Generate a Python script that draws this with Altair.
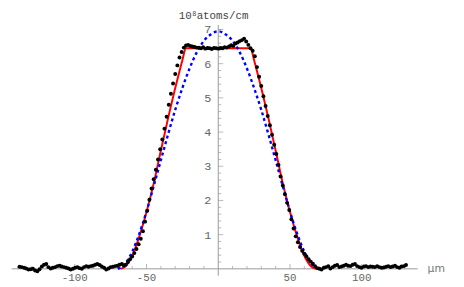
import altair as alt
import pandas as pd

# measured profile (black dots)
dots_x = [
    -138.5, -137.0, -135.4, -133.9, -132.3, -130.8, -129.2, -127.7, -126.1, -124.6,
    -123.0, -121.5, -119.9, -118.4, -116.8, -115.3, -113.7, -112.2, -110.6, -109.1,
    -107.5, -106.0, -104.4, -102.9, -101.3, -99.8, -98.2, -96.7, -95.1, -93.6,
    -92.0, -90.5, -88.9, -87.4, -85.8, -84.3, -82.7, -81.2, -79.6, -78.1,
    -76.5, -75.0, -73.4, -71.9, -70.3, -68.8, -67.2, -65.9,
    -64.5, -63.0, -61.5, -60.0, -58.5, -57.0, -55.5, -54.0, -52.5, -51.0,
    -49.5, -48.0, -46.5, -45.0, -43.5, -42.0, -40.5, -39.0, -37.5, -36.0,
    -34.5, -33.0, -31.5, -30.0, -28.5, -27.0, -25.5, -24.0, -22.5, -21.0,
    -19.5, -18.0, -16.5, -15.0, -13.5, -12.0, -10.5, -9.0, -7.5, -6.0,
    -4.5, -3.0, -1.5, 0.0, 1.5, 3.0, 4.5, 6.0, 7.5, 9.0,
    10.5, 12.0, 13.5, 15.0, 16.5, 18.0, 19.5, 21.0, 22.5, 24.0,
    25.5, 27.0, 28.5, 30.0, 31.5, 33.0, 34.5, 36.0, 37.5, 39.0,
    40.5, 42.0, 43.5, 45.0, 46.5, 48.0, 49.5, 51.0, 52.5, 54.0,
    55.5, 57.0, 58.5, 60.0, 61.5, 63.0, 64.5, 66.0, 67.5, 69.0,
    70.5, 72.0, 73.6, 75.1, 76.7, 78.2, 79.8, 81.3, 82.9, 84.4,
    86.0, 87.5, 89.1, 90.6, 92.2, 93.7, 95.3, 96.8, 98.4, 99.9,
    101.5, 103.0, 104.6, 106.1, 107.7, 109.2, 110.8, 112.3, 113.9, 115.4,
    117.0, 118.5, 120.1, 121.6, 123.2, 124.7, 126.3, 127.8, 129.4, 130.9,
]
dots_y = [
    0.06, 0.05, 0.03, 0.01, -0.02, -0.01, 0.00, -0.05, -0.07, -0.01,
    0.07, 0.12, 0.14, 0.05, 0.01, 0.03, 0.05, 0.08, 0.09, 0.07,
    0.05, 0.03, 0.01, -0.02, 0.00, 0.03, 0.05, 0.02, 0.00, 0.05,
    0.08, 0.06, 0.08, 0.09, 0.12, 0.14, 0.11, 0.07, 0.03, -0.02,
    0.01, 0.05, 0.06, 0.08, 0.09, 0.12, 0.14, 0.10,
    0.12, 0.20, 0.28, 0.36, 0.46, 0.58, 0.72, 0.88, 1.10, 1.38,
    1.70, 2.02, 2.35, 2.62, 2.90, 3.20, 3.50, 3.78, 4.10, 4.45,
    4.80, 5.12, 5.42, 5.70, 5.95, 6.18, 6.34, 6.47, 6.53, 6.55,
    6.52, 6.50, 6.49, 6.47, 6.47, 6.45, 6.48, 6.44, 6.46, 6.45,
    6.43, 6.46, 6.45, 6.44, 6.46, 6.45, 6.48, 6.47, 6.50, 6.54,
    6.52, 6.59, 6.62, 6.66, 6.69, 6.73, 6.65, 6.55, 6.45, 6.38,
    6.22, 5.90, 5.62, 5.35, 5.05, 4.76, 4.47, 4.20, 3.92, 3.63,
    3.36, 3.04, 2.70, 2.44, 2.18, 1.93, 1.72, 1.45, 1.18, 0.95,
    0.78, 0.64, 0.53, 0.44, 0.36, 0.28, 0.21, 0.15, 0.08, 0.02,
    0.00, -0.02, 0.03, 0.05, 0.08, 0.01, 0.05, 0.09, 0.11, 0.05,
    0.07, 0.09, 0.12, 0.09, 0.08, 0.12, 0.14, 0.08, 0.05, 0.03,
    0.07, 0.08, 0.05, 0.07, 0.06, 0.05, 0.08, 0.05, 0.03, 0.04,
    0.06, 0.08, 0.05, 0.07, 0.09, 0.05, 0.03, 0.07, 0.08, 0.11,
]

# red fit (saturated profile)
red_x = [-68.0, -65.0, -60.0, -55.0, -50.0, -45.0, -40.0, -35.0, -32.5, -30.0,
         -27.5, -25.0, -22.6, 0.0, 22.6, 25.0, 27.5, 30.0, 32.5, 35.0,
         40.0, 45.0, 50.0, 55.0, 60.0, 65.0, 68.0]
red_y = [0.00, 0.06, 0.38, 0.95, 1.66, 2.50, 3.46, 4.40, 4.85, 5.29,
         5.70, 6.10, 6.45, 6.45, 6.45, 6.10, 5.70, 5.29, 4.85, 4.40,
         3.46, 2.50, 1.66, 0.95, 0.38, 0.06, 0.00]

# blue fit (dashed)
blue_x = [-70.0, -65.0, -60.0, -55.0, -50.0, -45.0, -40.0, -35.0, -30.0, -25.0,
          -20.0, -15.0, -10.0, -5.0, 0.0, 5.0, 10.0, 15.0, 20.0, 25.0,
          30.0, 35.0, 40.0, 45.0, 50.0, 55.0, 60.0, 65.0, 70.0]
blue_y = [0.00, 0.14, 0.50, 1.03, 1.68, 2.42, 3.18, 3.93, 4.65, 5.29,
          5.86, 6.33, 6.67, 6.86, 6.95, 6.86, 6.67, 6.33, 5.86, 5.29,
          4.65, 3.93, 3.18, 2.42, 1.68, 1.03, 0.50, 0.14, 0.00]

x_major = [-100, -50, 50, 100]
x_labels = ["-100", "-50", "50", "100"]
x_minor = [-140, -130, -120, -110, -90, -80, -70, -60, -40, -30, -20, -10,
           10, 20, 30, 40, 60, 70, 80, 90, 110, 120, 130]
y_major = [1, 2, 3, 4, 5, 6, 7]
y_labels = ["1", "2", "3", "4", "5", "6", "7"]
y_minor = [0.2, 0.4, 0.6, 0.8, 1.2, 1.4, 1.6, 1.8, 2.2, 2.4, 2.6, 2.8,
           3.2, 3.4, 3.6, 3.8, 4.2, 4.4, 4.6, 4.8, 5.2, 5.4, 5.6, 5.8,
           6.2, 6.4, 6.6, 6.8, 7.0]
x_axis_range = [-144, 139]
y_axis_range = [-0.2, 7.13]

xs = alt.Scale(domain=[-146.58, 165.75], nice=False, zero=False)
ys = alt.Scale(domain=[-0.4598, 7.557], nice=False, zero=False)

AX = "#999999"
LAB = "#666666"
MONO = "Liberation Mono"


def X(f):
    return alt.X(f, type="quantitative", scale=xs, axis=None)


def Y(f):
    return alt.Y(f, type="quantitative", scale=ys, axis=None)


dots = pd.DataFrame({"x": dots_x, "y": dots_y})
red = pd.DataFrame({"x": red_x, "y": red_y})
blue = pd.DataFrame({"x": blue_x, "y": blue_y})
xax_df = pd.DataFrame({"a": [x_axis_range[0]], "b": [x_axis_range[1]], "o": [0]})
yax_df = pd.DataFrame({"a": [y_axis_range[0]], "b": [y_axis_range[1]], "o": [0]})
xmaj_df = pd.DataFrame({"v": x_major, "t": x_labels, "o": [0] * len(x_major)})
xmin_df = pd.DataFrame({"v": x_minor, "o": [0] * len(x_minor)})
ymaj_df = pd.DataFrame({"v": y_major, "t": y_labels, "o": [0] * len(y_major)})
ymin_df = pd.DataFrame({"v": y_minor, "o": [0] * len(y_minor)})

xaxis = alt.Chart(xax_df).mark_rule(color=AX, strokeWidth=1).encode(
    x=X("a"), x2="b:Q", y=Y("o"))
yaxis = alt.Chart(yax_df).mark_rule(color=AX, strokeWidth=1).encode(
    y=Y("a"), y2="b:Q", x=X("o"))

xmaj = alt.Chart(xmaj_df).mark_tick(
    color=AX, size=5, thickness=1, orient="vertical", yOffset=-2.5).encode(
    x=X("v"), y=Y("o"))
xmin = alt.Chart(xmin_df).mark_tick(
    color=AX, size=3, thickness=1, orient="vertical", yOffset=-1.5).encode(
    x=X("v"), y=Y("o"))
ymaj = alt.Chart(ymaj_df).mark_tick(
    color=AX, size=5, thickness=1, orient="horizontal", xOffset=2.5).encode(
    y=Y("v"), x=X("o"))
ymin = alt.Chart(ymin_df).mark_tick(
    color=AX, size=3, thickness=1, orient="horizontal", xOffset=1.5).encode(
    y=Y("v"), x=X("o"))

xlab = alt.Chart(xmaj_df).mark_text(
    font=MONO, fontSize=11, color=LAB, dy=9.5, baseline="middle").encode(
    x=X("v"), y=Y("o"), text="t:N")
ylab = alt.Chart(ymaj_df).mark_text(
    font=MONO, fontSize=12, color=LAB, dx=-7, align="right", baseline="middle").encode(
    y=Y("v"), x=X("o"), text="t:N")

title_a = alt.Chart(pd.DataFrame({"t": ["10"]})).mark_text(
    font=MONO, fontSize=11, color="#444444", align="right", baseline="alphabetic").encode(
    x=alt.value(187), y=alt.value(9), text="t:N")
title_b = alt.Chart(pd.DataFrame({"t": ["8"]})).mark_text(
    font=MONO, fontSize=7, color="#444444", align="left", baseline="alphabetic").encode(
    x=alt.value(187.5), y=alt.value(5.5), text="t:N")
title_c = alt.Chart(pd.DataFrame({"t": ["atoms/cm"]})).mark_text(
    font=MONO, fontSize=11, color="#444444", align="left", baseline="alphabetic").encode(
    x=alt.value(192), y=alt.value(9), text="t:N")
unit = alt.Chart(pd.DataFrame({"t": ["μm"], "o": [0]})).mark_text(
    font="DejaVu Sans", fontSize=11, color="#777777", align="left", baseline="middle").encode(
    x=alt.value(427), y=Y("o"), text="t:N")

blue_line = alt.Chart(blue).mark_line(
    color="#0000ff", strokeWidth=2.4, strokeDash=[3, 3], interpolate="monotone").encode(
    x=X("x"), y=Y("y"))
red_line = alt.Chart(red).mark_line(
    color="#ff0000", strokeWidth=2, interpolate="monotone").encode(
    x=X("x"), y=Y("y"))
dot_pts = alt.Chart(dots).mark_circle(color="#000000", size=16, opacity=1).encode(
    x=X("x"), y=Y("y"))

chart = alt.layer(
    xaxis, yaxis, xmin, xmaj, ymin, ymaj, xlab, ylab,
    title_a, title_b, title_c, unit,
    red_line, blue_line, dot_pts,
).properties(
    width=456, height=279,
    autosize=alt.AutoSizeParams(type="none"),
    padding=0,
).configure_view(strokeWidth=0)

chart.save("out.html", embed_options={"renderer": "svg", "actions": False})
